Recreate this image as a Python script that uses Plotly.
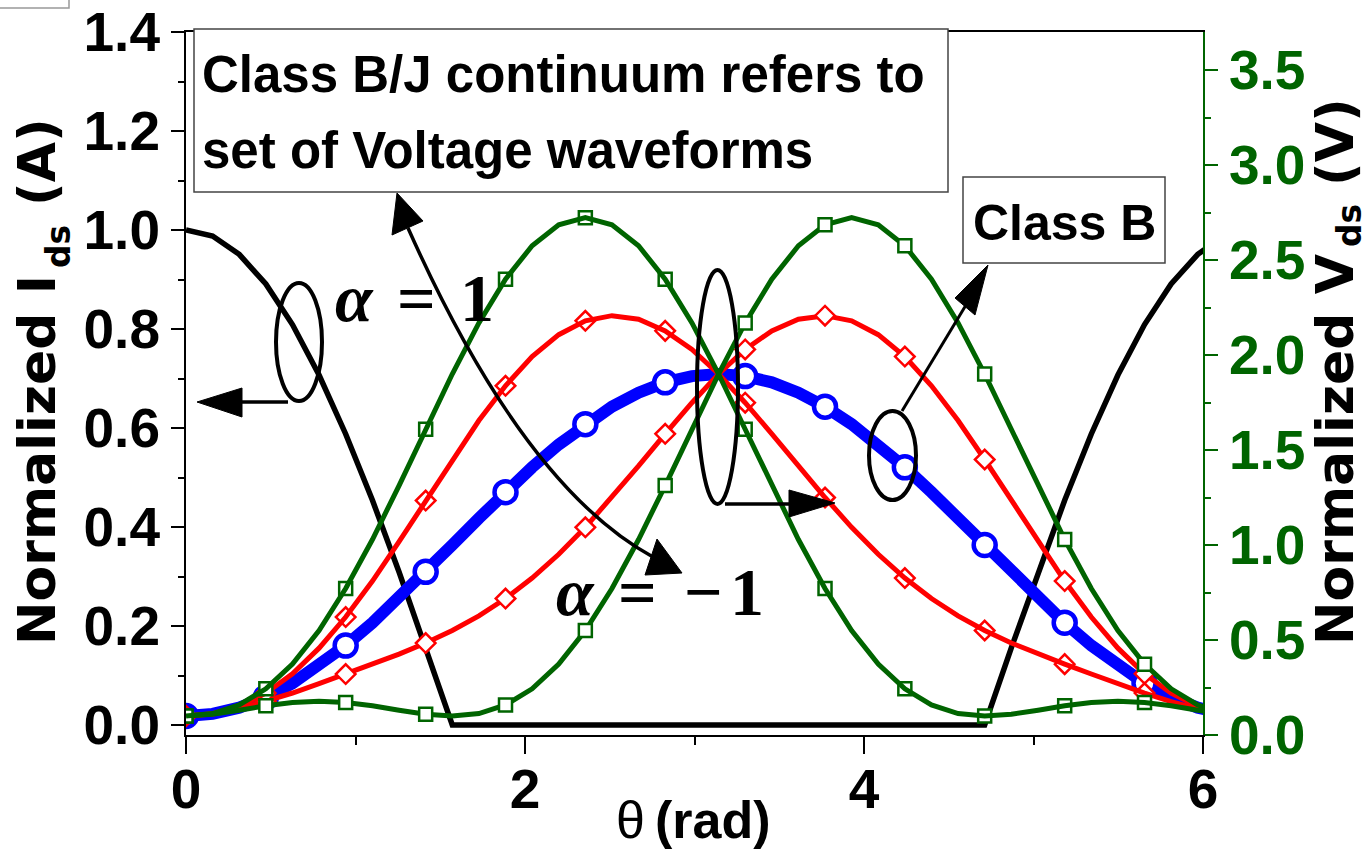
import plotly.graph_objects as go

# ---------------- data ----------------
theta = [0.000, 0.157, 0.314, 0.471, 0.628, 0.785, 0.942, 1.100, 1.257, 1.414,
         1.571, 1.728, 1.885, 2.042, 2.199, 2.356, 2.513, 2.670, 2.827, 2.985,
         3.142, 3.299, 3.456, 3.613, 3.770, 3.927, 4.084, 4.241, 4.398, 4.555,
         4.712, 4.869, 5.027, 5.184, 5.341, 5.498, 5.655, 5.812, 5.969, 6.126,
         6.283]

i_ds = [1.000, 0.988, 0.951, 0.891, 0.809, 0.707, 0.588, 0.454, 0.309, 0.156,
        0.000, 0.000, 0.000, 0.000, 0.000, 0.000, 0.000, 0.000, 0.000, 0.000,
        0.000, 0.000, 0.000, 0.000, 0.000, 0.000, 0.000, 0.000, 0.000, 0.000,
        0.000, 0.156, 0.309, 0.454, 0.588, 0.707, 0.809, 0.891, 0.951, 0.988,
        1.000]

v_class_b = [0.100, 0.111, 0.144, 0.198, 0.272, 0.364, 0.471, 0.591, 0.722, 0.859,
             1.000, 1.141, 1.278, 1.409, 1.529, 1.636, 1.728, 1.802, 1.856, 1.889,
             1.900, 1.889, 1.856, 1.802, 1.728, 1.636, 1.529, 1.409, 1.278, 1.141,
             1.000, 0.859, 0.722, 0.591, 0.471, 0.364, 0.272, 0.198, 0.144, 0.111,
             0.100]

v_alpha_p05 = [0.100, 0.110, 0.137, 0.176, 0.221, 0.270, 0.321, 0.373, 0.426, 0.484,
               0.550, 0.627, 0.718, 0.826, 0.951, 1.093, 1.250, 1.416, 1.585, 1.749,
               1.900, 2.029, 2.127, 2.188, 2.207, 2.180, 2.107, 1.992, 1.838, 1.655,
               1.450, 1.234, 1.018, 0.810, 0.621, 0.457, 0.322, 0.220, 0.151, 0.112,
               0.100]

v_alpha_m05 = [0.100, 0.112, 0.151, 0.220, 0.322, 0.457, 0.621, 0.810, 1.018, 1.234,
               1.450, 1.655, 1.838, 1.992, 2.107, 2.180, 2.207, 2.188, 2.127, 2.029,
               1.900, 1.749, 1.585, 1.416, 1.250, 1.093, 0.951, 0.826, 0.718, 0.627,
               0.550, 0.484, 0.426, 0.373, 0.321, 0.270, 0.221, 0.176, 0.137, 0.110,
               0.100]

v_alpha_p1 = [0.100, 0.109, 0.130, 0.154, 0.171, 0.177, 0.171, 0.154, 0.130, 0.109,
              0.100, 0.113, 0.158, 0.243, 0.373, 0.550, 0.771, 1.029, 1.313, 1.609,
              1.900, 2.169, 2.399, 2.575, 2.685, 2.723, 2.685, 2.575, 2.399, 2.169,
              1.900, 1.609, 1.313, 1.029, 0.771, 0.550, 0.373, 0.243, 0.158, 0.113,
              0.100]

v_alpha_m1 = [0.100, 0.113, 0.158, 0.243, 0.373, 0.550, 0.771, 1.029, 1.313, 1.609,
              1.900, 2.169, 2.399, 2.575, 2.685, 2.723, 2.685, 2.575, 2.399, 2.169,
              1.900, 1.609, 1.313, 1.029, 0.771, 0.550, 0.373, 0.243, 0.158, 0.113,
              0.100, 0.109, 0.130, 0.154, 0.171, 0.177, 0.171, 0.154, 0.130, 0.109,
              0.100]

x_ticks = [0, 2, 4, 6]
y_left_ticks = [0.0, 0.2, 0.4, 0.6, 0.8, 1.0, 1.2, 1.4]
y_right_ticks = [0.0, 0.5, 1.0, 1.5, 2.0, 2.5, 3.0, 3.5]

# ---------------- style ----------------
GREEN = "#006400"
SANS = "Liberation Sans, Arial, sans-serif"
WIDE = "DejaVu Sans, Verdana, sans-serif"
SERIF = "Liberation Serif, Times New Roman, serif"
MARK_EVERY = 3

W, H = 1370, 852
L, R, T, B = 186, 1203, 32, 735


def px(x):
    return (x - L) / (R - L)


def py(y):
    return (B - y) / (B - T)


fig = go.Figure()

fig.add_trace(go.Scatter(x=theta, y=i_ds, mode="lines",
                         line=dict(color="black", width=5.5),
                         yaxis="y", hoverinfo="skip", showlegend=False))


def add_series(y, color, width, symbol, msize, mline, line_over=False):
    line_tr = go.Scatter(x=theta, y=y, mode="lines", yaxis="y2",
                         line=dict(color=color, width=width),
                         hoverinfo="skip", showlegend=False)
    mark_tr = go.Scatter(x=theta[::MARK_EVERY], y=y[::MARK_EVERY], mode="markers",
                         yaxis="y2", cliponaxis=True,
                         marker=dict(symbol=symbol, size=msize, color="white",
                                     line=dict(color=color, width=mline)),
                         hoverinfo="skip", showlegend=False)
    if line_over:
        fig.add_trace(mark_tr)
        fig.add_trace(line_tr)
    else:
        fig.add_trace(line_tr)
        fig.add_trace(mark_tr)


add_series(v_class_b, "#0000ff", 12, "circle", 22, 4.5)
add_series(v_alpha_p05, "#ff0000", 5, "diamond", 15, 2.5)
add_series(v_alpha_m05, "#ff0000", 5, "diamond", 15, 2.5, line_over=True)
add_series(v_alpha_p1, GREEN, 5, "square", 13, 2.5)
add_series(v_alpha_m1, GREEN, 5, "square", 13, 2.5, line_over=True)

# ---------------- annotation shapes (pixel geometry) ----------------
shapes = []


def seg(x0, y0, x1, y1, w=3.5):
    shapes.append(dict(type="line", xref="paper", yref="paper",
                       x0=px(x0), y0=py(y0), x1=px(x1), y1=py(y1),
                       line=dict(color="black", width=w)))


def tri(p1, p2, p3):
    path = "M {} {} L {} {} L {} {} Z".format(px(p1[0]), py(p1[1]), px(p2[0]), py(p2[1]),
                                              px(p3[0]), py(p3[1]))
    shapes.append(dict(type="path", xref="paper", yref="paper", path=path,
                       fillcolor="black", line=dict(color="black", width=1)))


def ell(x0, y0, x1, y1):
    shapes.append(dict(type="circle", xref="paper", yref="paper",
                       x0=px(x0), y0=py(y0), x1=px(x1), y1=py(y1),
                       line=dict(color="black", width=4)))


def rect(x0, y0, x1, y1, color="#444444", w=1.5, fill="white"):
    shapes.append(dict(type="rect", xref="paper", yref="paper",
                       x0=px(x0), y0=py(y0), x1=px(x1), y1=py(y1),
                       fillcolor=fill, line=dict(color=color, width=w)))


# ellipse + left arrow (current axis)
ell(276, 283, 322, 401)
seg(288, 402, 236, 402)
tri((197, 402), (242, 388), (242, 417))
# ellipse + right arrow (voltage axis)
ell(697, 270, 738, 504)
seg(725, 504, 795, 504)
tri((835, 503), (789, 490), (789, 517))
# class B ellipse + arrow
ell(869, 411, 916, 500)
seg(902, 411, 966, 305, w=3)
tri((988, 265), (955, 298), (975, 315))
# curved double arrow
curve = "M {} {} Q {} {} {} {}".format(px(408), py(228), px(523), py(486), px(653), py(557))
shapes.append(dict(type="path", xref="paper", yref="paper", path=curve,
                   line=dict(color="black", width=3.5)))
tri((397, 193), (392, 235), (423, 221))
tri((682, 573), (657, 539), (645, 575))
# text boxes
rect(194, 29, 948, 192)
rect(963, 177, 1165, 263)
rect(-5, -5, 69, 8, color="#999999", w=1.5, fill="rgba(0,0,0,0)")

# ---------------- text ----------------
annotations = []


def text(x, y, s, size, family, color="black", bold=True, italic=False, angle=0,
         xanchor="center"):
    annotations.append(dict(xref="paper", yref="paper", x=px(x), y=py(y), text=s,
                            showarrow=False, xanchor=xanchor, yanchor="middle",
                            textangle=angle,
                            font=dict(size=size, family=family, color=color,
                                      weight="bold" if bold else "normal",
                                      style="italic" if italic else "normal")))


text(200, 75, "Class B/J continuum refers to", 51, SANS, xanchor="left")
text(200, 150, "set of Voltage waveforms", 51, SANS, xanchor="left")
text(1064, 223, "Class B", 50, SANS)

# alpha labels
text(354, 298, "α", 68, SERIF, italic=True)
text(416, 298, "=", 68, SERIF)
text(477, 298, "1", 68, SERIF)
text(575, 592, "α", 68, SERIF, italic=True)
text(637, 592, "=", 68, SERIF)
text(703, 592, "−", 68, SERIF)
text(747, 592, "1", 68, SERIF)

# x-axis title
text(630, 820, "θ", 52, SANS, bold=False)
text(713, 820, "(rad)", 52, SANS)

# left axis title
text(37, 460, "Normalized I", 52, WIDE, angle=-90)
text(58, 247, "ds", 33, WIDE, angle=-90)
text(37, 162, "(A)", 52, WIDE, angle=-90)
# right axis title
text(1335, 450, "Normalized V", 52, WIDE, angle=-90)
text(1349, 226, "ds", 33, WIDE, angle=-90)
text(1335, 142, "(V)", 52, WIDE, angle=-90)

tickfont_black = dict(size=55, family=SANS, color="black", weight="bold")
tickfont_green = dict(size=55, family=SANS, color=GREEN, weight="bold")

fig.update_layout(
    width=W, height=H,
    margin=dict(l=L, r=W - R, t=T, b=H - B, pad=0, autoexpand=False),
    plot_bgcolor="white", paper_bgcolor="white", showlegend=False,
    xaxis=dict(range=[0, 6], tickvals=x_ticks, ticktext=[str(v) for v in x_ticks],
               automargin=False,
               showgrid=False, zeroline=False, showline=True, linecolor="black",
               linewidth=2, mirror=True, ticks="outside", ticklen=17, tickwidth=2,
               tickcolor="black", tickfont=tickfont_black, ticklabelstandoff=-12,
               minor=dict(dtick=1, ticks="outside", ticklen=8, tickwidth=2,
                          tickcolor="black")),
    yaxis=dict(range=[-0.0202, 1.4001], tickvals=y_left_ticks,
               ticktext=["%.1f" % v for v in y_left_ticks], automargin=False,
               showgrid=False, zeroline=False, showline=True, linecolor="black",
               linewidth=2, ticks="outside", ticklen=13, tickwidth=2,
               tickcolor="black", tickfont=tickfont_black,
               minor=dict(dtick=0.1, tick0=0, ticks="outside", ticklen=6, tickwidth=2,
                          tickcolor="black")),
    yaxis2=dict(range=[0, 3.7], overlaying="y", side="right", tickvals=y_right_ticks,
                ticktext=["%.1f" % v for v in y_right_ticks], automargin=False,
                showgrid=False, zeroline=False, showline=True, linecolor=GREEN,
                linewidth=2, ticks="outside", ticklen=13, tickwidth=2,
                tickcolor=GREEN, tickfont=tickfont_green,
                minor=dict(dtick=0.25, tick0=0, ticks="outside", ticklen=6, tickwidth=2,
                           tickcolor=GREEN)),
    shapes=shapes, annotations=annotations,
)

fig.write_html("out.html")
